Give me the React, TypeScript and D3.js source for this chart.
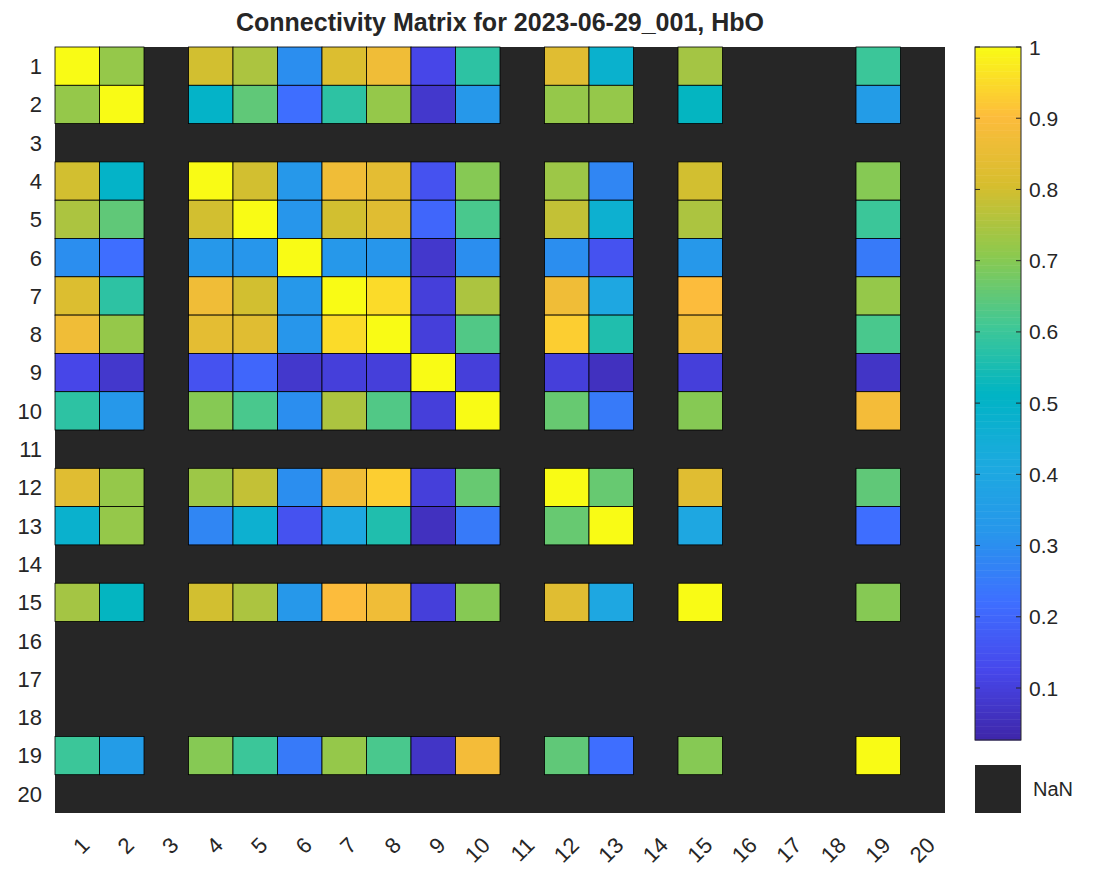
import React from "react";
import * as d3 from "d3";

// channels that hold data; others are NaN
const channels = [1, 2, 4, 5, 6, 7, 8, 9, 10, 12, 13, 15, 19];
const rows: number[][] = [
  [1.0, 0.72, 0.8, 0.75, 0.3, 0.82, 0.87, 0.12, 0.58, 0.83, 0.48, 0.74, 0.6],
  [0.72, 1.0, 0.5, 0.65, 0.22, 0.58, 0.72, 0.08, 0.33, 0.72, 0.72, 0.52, 0.35],
  [0.8, 0.5, 1.0, 0.8, 0.33, 0.87, 0.84, 0.15, 0.7, 0.73, 0.28, 0.8, 0.7],
  [0.75, 0.65, 0.8, 1.0, 0.32, 0.8, 0.83, 0.2, 0.62, 0.78, 0.47, 0.75, 0.6],
  [0.3, 0.22, 0.33, 0.32, 1.0, 0.33, 0.32, 0.08, 0.3, 0.3, 0.15, 0.33, 0.25],
  [0.82, 0.58, 0.87, 0.8, 0.33, 1.0, 0.95, 0.1, 0.75, 0.87, 0.4, 0.9, 0.72],
  [0.87, 0.72, 0.84, 0.83, 0.32, 0.95, 1.0, 0.1, 0.63, 0.93, 0.56, 0.87, 0.62],
  [0.12, 0.08, 0.15, 0.2, 0.08, 0.1, 0.1, 1.0, 0.1, 0.1, 0.06, 0.1, 0.07],
  [0.58, 0.33, 0.7, 0.62, 0.3, 0.75, 0.63, 0.1, 1.0, 0.66, 0.25, 0.7, 0.88],
  [0.83, 0.72, 0.73, 0.78, 0.3, 0.87, 0.93, 0.1, 0.66, 1.0, 0.66, 0.83, 0.65],
  [0.48, 0.72, 0.28, 0.47, 0.15, 0.4, 0.56, 0.06, 0.25, 0.66, 1.0, 0.4, 0.22],
  [0.74, 0.52, 0.8, 0.75, 0.33, 0.9, 0.87, 0.1, 0.7, 0.83, 0.4, 1.0, 0.7],
  [0.6, 0.35, 0.7, 0.6, 0.25, 0.72, 0.62, 0.07, 0.88, 0.65, 0.22, 0.7, 1.0],
];
const labels = d3.range(1, 21);
const cbTicks = [0.1, 0.2, 0.3, 0.4, 0.5, 0.6, 0.7, 0.8, 0.9, 1];
const parula = ["#3E26A8", "#4747EB", "#3E6FFF", "#2796EB", "#1CAADF", "#00B4C4",
  "#42C894", "#8CC94E", "#D6BE2E", "#FDBC3C", "#F9FB15"];

const font = "'Liberation Sans', Arial, sans-serif";

export default function App() {
  const left = 55, top = 47, right = 945, bottom = 813;
  const x = d3.scaleBand<number>().domain(labels).range([left, right]);
  const y = d3.scaleBand<number>().domain(labels).range([top, bottom]);
  const vmin = 0.027, vmax = 1;
  const color = d3.scaleLinear<string>()
    .domain(d3.range(11).map((i) => vmin + (vmax - vmin) * i / 10))
    .range(parula).interpolate(d3.interpolateRgb).clamp(true);
  const cbTop = 47, cbBot = 740, cbX = 975, cbW = 46;
  const cy = d3.scaleLinear().domain([vmin, vmax]).range([cbBot, cbTop]);

  const cells: { r: number; c: number; v: number }[] = [];
  rows.forEach((row, i) => row.forEach((v, j) => cells.push({ r: channels[i], c: channels[j], v })));

  const steps = d3.range(0, 200);
  return (
    <svg width={1094} height={871} style={{ position: "absolute", left: 0, top: 0, background: "#fff" }} fontFamily={font}>
      <text x={500} y={31} textAnchor="middle" fontSize={25} fontWeight="bold" fill="#262626">
        Connectivity Matrix for 2023-06-29_001, HbO
      </text>
      <rect x={left} y={top} width={right - left} height={bottom - top} fill="#262626" />
      {cells.map((d) => (
        <rect key={`${d.r}-${d.c}`} x={x(d.c)} y={y(d.r)} width={x.bandwidth()} height={y.bandwidth()}
          fill={color(d.v)} stroke="#000" strokeWidth={0.8} />
      ))}
      {labels.map((l) => (
        <text key={"y" + l} x={left - 13} y={y(l)! + y.bandwidth() / 2} dy="0.36em" textAnchor="end" fontSize={22} fill="#262626">{l}</text>
      ))}
      {labels.map((l) => (
        <text key={"x" + l} transform={`translate(${x(l)! + x.bandwidth() / 2 + 8},${bottom + 28}) rotate(-45)`}
          textAnchor="end" dy="0.36em" fontSize={22} fill="#262626">{l}</text>
      ))}
      {steps.map((i) => {
        const v0 = vmin + (vmax - vmin) * i / steps.length;
        const v1 = vmin + (vmax - vmin) * (i + 1) / steps.length;
        return <rect key={"cb" + i} x={cbX} y={cy(v1)} width={cbW} height={cy(v0) - cy(v1) + 0.5} fill={color((v0 + v1) / 2)} />;
      })}
      <rect x={cbX} y={cbTop} width={cbW} height={cbBot - cbTop} fill="none" stroke="#262626" strokeWidth={1} />
      {cbTicks.map((t) => (
        <g key={"t" + t}>
          <line x1={cbX} x2={cbX + 5} y1={cy(t)} y2={cy(t)} stroke="#262626" />
          <line x1={cbX + cbW - 5} x2={cbX + cbW} y1={cy(t)} y2={cy(t)} stroke="#262626" />
          <text x={cbX + cbW + 8} y={cy(t)} dy="0.36em" fontSize={21} fill="#262626">{t}</text>
        </g>
      ))}
      <rect x={cbX} y={765} width={cbW} height={48} fill="#262626" />
      <text x={cbX + cbW + 12} y={789} dy="0.36em" fontSize={20} fill="#262626">NaN</text>
    </svg>
  );
}
